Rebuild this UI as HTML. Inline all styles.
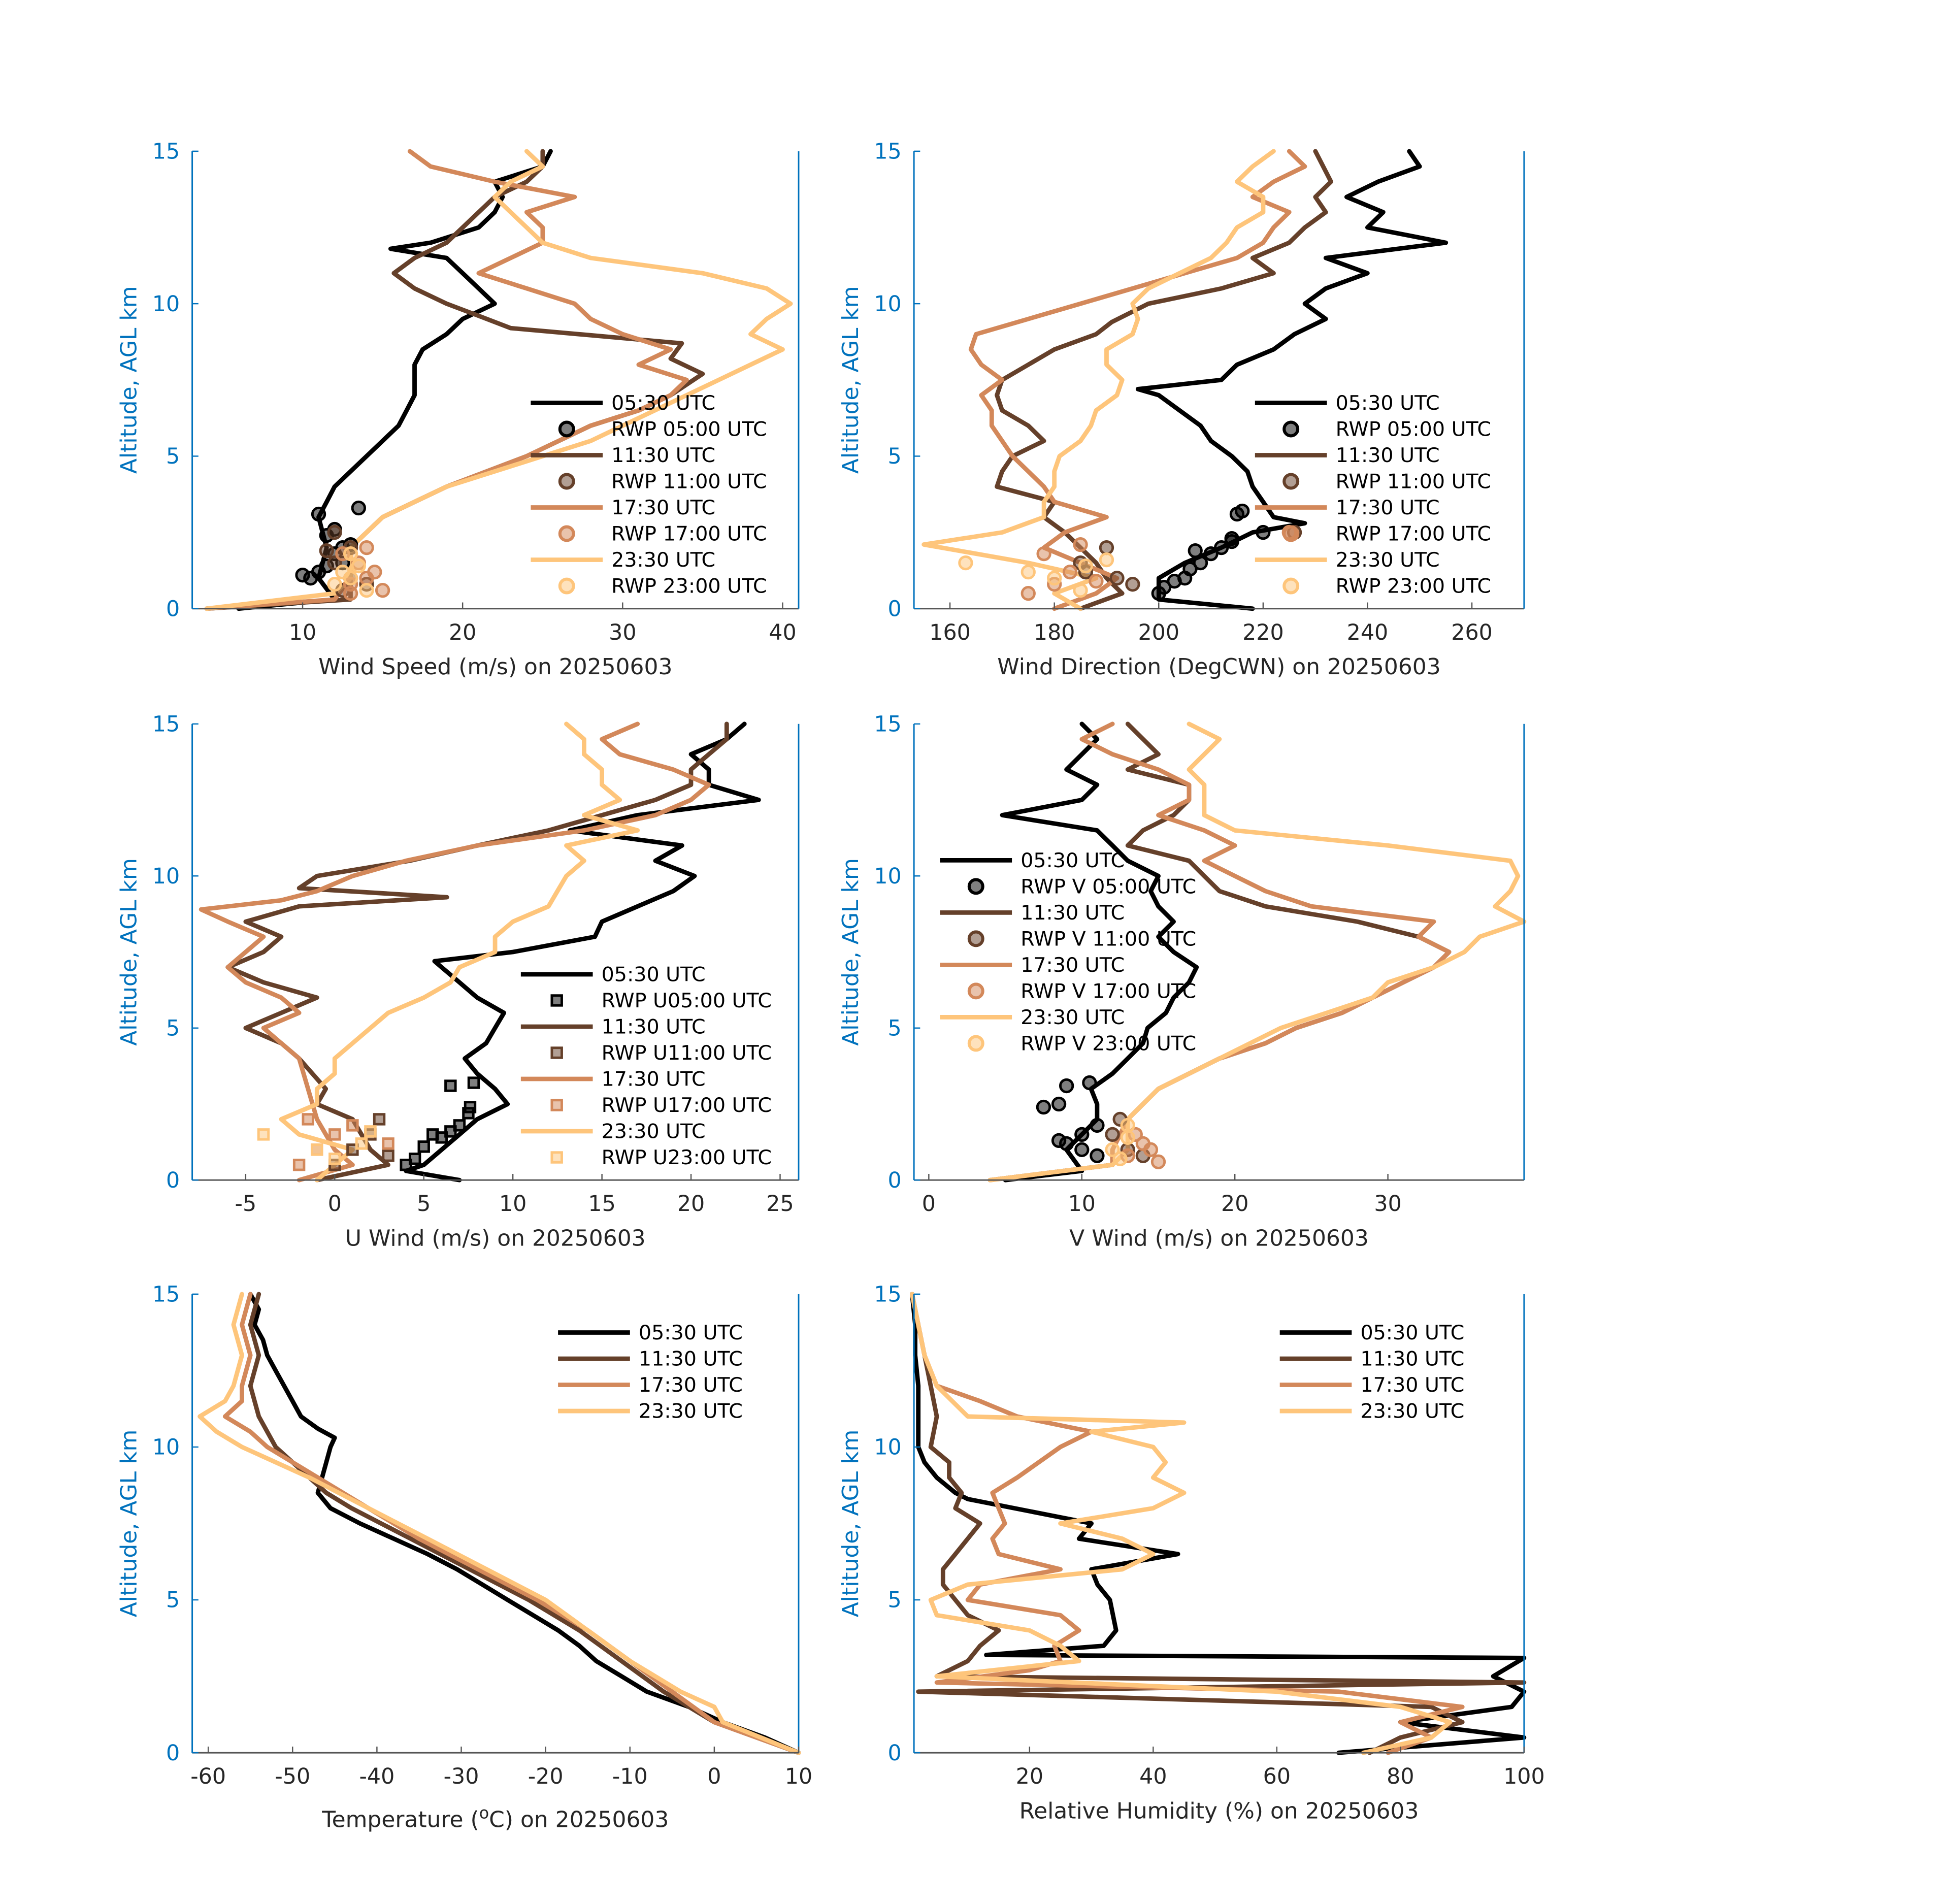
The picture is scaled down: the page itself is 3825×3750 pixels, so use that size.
<!DOCTYPE html>
<html><head><meta charset="utf-8"><style>html,body{margin:0;padding:0;background:#fff}svg{display:block}text{font-family:"DejaVu Sans","Liberation Sans",sans-serif}</style></head>
<body>
<svg id="fig" xmlns="http://www.w3.org/2000/svg" width="3825" height="3750" viewBox="0 0 1566 1536" preserveAspectRatio="none"></svg>
<script>
// ---- Data (value, altitude km) ----
const alt = [0,0.3,0.5,1,1.5,2,2.5,3,3.5,4,4.5,5,5.5,6,6.5,7,7.5,8,8.5,9,9.5,10,10.5,11,11.5,12,12.5,13,13.5,14,14.5,15];
const spd0530 = [[6,0],[12,0.3],[11,1],[11.5,2],[11,3],[11.5,3.5],[12,4],[13,4.5],[14,5],[15,5.5],[16,6],[16.5,6.5],[17,7],[17,7.5],[17,8],[17.5,8.5],[19,9],[20,9.5],[22,10],[21,10.5],[20,11],[19,11.5],[15.5,11.8],[18,12],[21,12.5],[22,13],[22.5,13.5],[22,14],[25,14.5],[25.5,15]];
const spd1130 = [[4,0],[13,0.3],[13,1],[13,2],[14,2.5],[15,3],[17,3.5],[19,4],[21.5,4.5],[24,5],[26,5.5],[28,6],[31,6.5],[33,7],[35,7.7],[33,8.2],[33.7,8.7],[23,9.2],[21,9.6],[19,10],[17,10.5],[15.7,11],[17,11.5],[19,12],[20,12.5],[21,13],[22,13.5],[24,14],[25,14.5],[25,15]];
const spd1730 = [[4,0],[12,0.3],[13,1],[13,2],[14,2.5],[15,3],[17,3.5],[19,4],[21.5,4.5],[24,5],[26,5.5],[28,6],[31,6.5],[33,7],[34,7.5],[31,8],[33,8.5],[30,9],[28,9.5],[27,10],[24,10.5],[21,11],[23,11.5],[25,12],[25,12.5],[24,13],[27,13.5],[22,14],[18,14.5],[16.7,15]];
const spd2330 = [[4,0],[12,0.5],[13,1],[13,2],[15,3],[17,3.5],[19,4],[22,4.5],[25,5],[28,5.5],[30,6],[32,6.5],[34,7],[36,7.5],[38,8],[40,8.5],[38,9],[39,9.5],[40.5,10],[39,10.5],[35,11],[28,11.5],[25,12],[24,12.5],[23,13],[22,13.5],[23,14],[25,14.5],[24,15]];
const rwpSpd0500 = [[10,1.1],[10.5,1.0],[11,1.2],[11.5,2.4],[11,3.1],[12,1.8],[12.5,2.0],[13,2.1],[13.5,3.3],[12,2.6],[11.5,1.4],[12.5,1.5]];
const rwpSpd1100 = [[12,1.5],[13,2.0],[12,2.5],[11.5,1.9],[13,1.0],[14,0.8],[12.5,0.6]];
const rwpSpd1700 = [[13,0.8],[14,1.0],[14.5,1.2],[15,0.6],[13.5,1.5],[12.5,1.8],[14,2.0],[13,0.5]];
const rwpSpd2300 = [[12,0.8],[13,1.0],[13.5,1.4],[14,0.6],[12.5,1.2],[13,1.8]];

const dir0530 = [[218,0],[200,0.3],[200,1],[205,1.5],[212,2],[218,2.5],[228,2.8],[222,3],[220,3.5],[218,4],[217,4.5],[214,5],[210,5.5],[208,6],[204,6.5],[200,7],[196,7.2],[212,7.5],[215,8],[222,8.5],[226,9],[232,9.5],[228,10],[232,10.5],[240,11],[232,11.5],[255,12],[240,12.5],[243,13],[236,13.5],[242,14],[250,14.5],[248,15]];
const dir1130 = [[185,0],[193,0.5],[190,1],[188,1.5],[185,2],[182,2.5],[178,3],[180,3.5],[169,4],[170,4.5],[172,5],[178,5.5],[175,6],[170,6.5],[169,7],[170,7.5],[175,8],[180,8.5],[188,9],[191,9.4],[198,10],[212,10.5],[222,11],[218,11.5],[225,12],[228,12.5],[232,13],[230,13.5],[233,14],[230,15]];
const dir1730 = [[180,0],[188,0.5],[192,1],[185,1.5],[178,2],[182,2.5],[190,3],[180,3.5],[178,4],[175,4.5],[172,5],[170,5.5],[168,6],[168,6.5],[166,7],[170,7.5],[166,8],[164,8.5],[165,9],[175,9.5],[185,10],[195,10.5],[205,11],[215,11.5],[220,12],[222,12.5],[225,13],[218,13.5],[222,14],[228,14.5],[225,15]];
const dir2330 = [[185,0],[180,0.5],[188,1],[175,1.5],[155,2.1],[170,2.5],[178,3],[178,3.5],[180,4],[180,4.5],[181,5],[185,5.5],[187,6],[188,6.5],[192,7],[193,7.5],[190,8],[190,8.5],[195,9],[196,9.5],[195,10],[198,10.5],[204,11],[210,11.5],[213,12],[215,12.5],[220,13],[220,13.5],[215,14],[218,14.5],[222,15]];
const rwpDir0500 = [[200,0.5],[201,0.7],[203,0.9],[205,1.0],[206,1.3],[208,1.5],[210,1.8],[212,2.0],[214,2.3],[215,3.1],[216,3.2],[214,2.2],[220,2.5],[207,1.9]];
const rwpDir1100 = [[185,1.5],[190,2.0],[195,0.8],[186,1.2],[192,1.0],[226,2.5]];
const rwpDir1700 = [[175,0.5],[180,0.8],[183,1.2],[178,1.8],[185,2.1],[188,0.9],[225,2.5]];
const rwpDir2300 = [[163,1.5],[175,1.2],[180,1.0],[186,1.4],[190,1.6],[185,0.6]];

const u0530 = [[7,0],[4,0.3],[5,0.5],[6,1],[7,1.5],[8,2],[9.7,2.5],[9,3],[8,3.5],[7.3,4],[8.5,4.5],[9,5],[9.5,5.5],[8,6],[7,6.5],[6,7],[5.6,7.2],[10,7.5],[14.6,8],[15,8.5],[17,9],[19,9.5],[20.2,10],[18,10.5],[19.5,11],[13.2,11.5],[17,12],[23.8,12.5],[21,13],[21,13.5],[20,14],[22,14.5],[23,15]];
const u1130 = [[-1,0],[3,0.5],[2,1],[1,2],[-1,2.5],[-0.5,3],[-2,4],[-3,4.5],[-5,5],[-3,5.5],[-1,6],[-4,6.5],[-6,7],[-4,7.5],[-3,8],[-5,8.5],[-2,9],[6.3,9.3],[-2,9.6],[-1,10],[4.2,10.5],[8,11],[12,11.5],[15,12],[18,12.5],[20,13],[20,13.5],[21,14],[22,14.5],[22,15]];
const u1730 = [[-2,0],[1,0.5],[0,1],[-1,2],[-1.5,3],[-2,4],[-3,4.5],[-4,5],[-2,5.5],[-3,6],[-5,6.5],[-6,7],[-5,7.5],[-4,8],[-6,8.5],[-7.5,8.9],[-3,9.2],[-1,9.5],[1,10],[4,10.5],[8,11],[14,11.5],[18,12],[20,12.5],[21,13],[19,13.5],[16,14],[15,14.5],[17,15]];
const u2330 = [[-1,0],[0,0.5],[1,1],[-2,1.5],[-3,2],[-1,2.5],[-1,3],[0,3.5],[0,4],[1,4.5],[2,5],[3,5.5],[5,6],[6.5,6.5],[7,7],[9,7.5],[9,8],[10,8.5],[12,9],[12.5,9.5],[13,10],[14,10.5],[13,11],[17,11.5],[14,12],[16,12.5],[15,13],[15,13.5],[14,14],[14,14.5],[13,15]];
const rwpU0500 = [[4,0.5],[4.5,0.7],[5,1.1],[6,1.4],[6.5,1.6],[7,1.8],[7.5,2.2],[7.6,2.4],[6.5,3.1],[7.8,3.2],[5.5,1.5]];
const rwpU1100 = [[1,1.0],[2,1.5],[3,0.8],[0,0.5],[2.5,2.0]];
const rwpU1700 = [[-2,0.5],[-1,1.0],[0,1.5],[1,1.8],[3,1.2],[-1.5,2.0]];
const rwpU2300 = [[-4,1.5],[-1,1.0],[0,0.7],[1.5,1.2],[2,1.6]];

const v0530 = [[5,0],[10,0.3],[9,1],[10,1.5],[11,2],[11,2.5],[10.6,3],[12,3.5],[13,4],[14,4.5],[14.3,5],[15.5,5.5],[16,6],[17,6.5],[17.5,7],[16,7.5],[15,8],[16,8.5],[15,9],[14.5,9.5],[15,10],[13,10.5],[12,11],[11,11.5],[4.8,12],[10,12.5],[11,13],[9,13.5],[10,14],[11,14.5],[10,15]];
const v1130 = [[4,0],[12,0.5],[12,1],[13,2],[15,3],[19,4],[22,4.5],[24,5],[27,5.5],[29,6],[31,6.5],[33,7],[34,7.5],[32,8],[28,8.5],[22,9],[19,9.5],[18,10],[17,10.5],[13,11],[14,11.5],[16,12],[17,12.5],[17,13],[13,13.5],[15,14],[13,15]];
const v1730 = [[4,0],[12,0.5],[12,1],[13,2],[15,3],[19,4],[22,4.5],[24,5],[27,5.5],[29,6],[31,6.5],[33,7],[34,7.5],[32,8],[33,8.5],[25,9],[22,9.5],[20,10],[18,10.5],[20,11],[18,11.5],[15,12],[17,12.5],[17,13],[15,13.5],[12,14],[10,14.5],[12,15]];
const v2330 = [[4,0],[12,0.5],[13,1],[13,2],[15,3],[19,4],[23,5],[26,5.5],[29,6],[30,6.5],[33,7],[35,7.5],[36,8],[38.9,8.5],[37,9],[38,9.5],[38.5,10],[38,10.5],[30,11],[20,11.5],[18,12],[18,12.5],[18,13],[17,13.5],[18,14],[19,14.5],[17,15]];
const rwpV0500 = [[7.5,2.4],[8.5,2.5],[9,3.1],[10.5,3.2],[9,1.2],[10,1.0],[11,0.8],[10,1.5],[8.5,1.3],[11,1.8]];
const rwpV1100 = [[12,1.5],[13,1.0],[12.5,2.0],[14,0.8]];
const rwpV1700 = [[13,0.8],[14,1.2],[14.5,1.0],[15,0.6],[13.5,1.5]];
const rwpV2300 = [[12,1.0],[13,1.4],[12.5,0.7],[13,1.8]];

const t0530 = [[10,0],[6,0.5],[1,1],[-3,1.5],[-8,2],[-11,2.5],[-14,3],[-16,3.5],[-18.5,4],[-21.5,4.5],[-24.5,5],[-27.5,5.5],[-30.5,6],[-34,6.5],[-38,7],[-42,7.5],[-45.5,8],[-47,8.5],[-46.5,9],[-46,9.5],[-45.5,10],[-45,10.3],[-47,10.6],[-49,11],[-50,11.5],[-51,12],[-52,12.5],[-53,13],[-53.5,13.5],[-54.5,14],[-54,14.5],[-55,15]];
const t1130 = [[10,0],[0,1],[-6,2],[-11,3],[-16,4],[-22,5],[-29,6],[-36,7],[-43,8],[-46,8.5],[-48,9],[-52,10],[-54,11],[-55,12],[-54,13],[-55,14],[-54,15]];
const t1730 = [[10,0],[0,1],[-5,2],[-10,3],[-15,4],[-21,5],[-28,6],[-35,7],[-41,8],[-47,9],[-53,10],[-55,10.5],[-58,11],[-56,11.5],[-56,12],[-55,13],[-56,14],[-55,15]];
const t2330 = [[10,0],[1,1],[0,1.5],[-4,2],[-10,3],[-15,4],[-20,5],[-27,6],[-34,7],[-41,8],[-48,9],[-56,10],[-59,10.5],[-61,11],[-58,11.5],[-57,12],[-56,13],[-57,14],[-56,15]];

const rh0530 = [[70,0],[100,0.5],[80,1],[98,1.5],[100,2],[95,2.5],[100,3.1],[13,3.2],[32,3.5],[34,4],[33,5],[31,5.5],[30,6],[44,6.5],[28,7],[30,7.5],[10,8.3],[8,8.5],[5,9],[3,9.5],[2,10],[2,11],[2,12],[1.5,13],[1.5,14],[1,15]];
const rh1130 = [[75,0],[80,0.5],[90,1],[85,1.5],[2,2],[100,2.3],[5,2.5],[10,3],[12,3.5],[15,4],[10,4.5],[8,5],[6,5.5],[6,6],[8,6.5],[10,7],[12,7.5],[8,8],[9,8.5],[7,9],[7,9.5],[4,10],[5,11],[4,12],[3,13],[2,14],[1,15]];
const rh1730 = [[78,0],[85,0.5],[80,1],[90,1.5],[70,2],[5,2.3],[20,2.7],[25,3],[24,3.5],[28,4],[25,4.5],[10,5],[12,5.5],[25,6],[15,6.5],[14,7],[16,7.5],[15,8],[14,8.5],[18,9],[25,10],[30,10.5],[18,11],[12,11.5],[5,12],[3,13],[2,14],[1,15]];
const rh2330 = [[74,0],[85,0.5],[88,1],[80,1.5],[60,2],[5,2.5],[28,3],[25,3.5],[20,4],[5,4.5],[4,5],[10,5.5],[35,6],[40,6.5],[35,7],[25,7.5],[40,8],[45,8.5],[40,9],[42,9.5],[40,10],[30,10.5],[45,10.8],[10,11],[5,12],[3,13],[2,14],[1,15]];

const C = {k:'#000000',b:'#65402a',o:'#d3885a',y:'#fec57b'};
const F = {k:'rgba(0,0,0,0.5)',b:'rgba(101,64,42,0.5)',o:'rgba(211,136,90,0.5)',y:'rgba(254,197,123,0.5)'};
const NS='http://www.w3.org/2000/svg';
const svg=document.getElementById('fig');
function mk(tag,attrs,parent){const e=document.createElementNS(NS,tag);for(const k in attrs)e.setAttribute(k,attrs[k]);(parent||svg).appendChild(e);return e;}

function panel(o){
  const g=mk('g',{});
  
  
  const {x0,x1,y0,y1,xmin,xmax}=o;
  const X=v=>x0+(v-xmin)/(xmax-xmin)*(x1-x0);
  const Y=a=>y1-(a/15)*(y1-y0);
  o.series.forEach(s=>{
    const p=mk('polyline',{points:s.d.map(q=>X(q[0]).toFixed(1)+','+Y(q[1]).toFixed(1)).join(' '),fill:'none',stroke:C[s.c],'stroke-width':3.6,'stroke-linejoin':'round','stroke-linecap':'round'},g);
    
    
  });
  (o.rwp||[]).forEach(s=>{
    s.d.forEach(q=>{
      let m;
      if(o.square){m=mk('rect',{x:X(q[0])-4,y:Y(q[1])-4,width:8,height:8,fill:F[s.c],stroke:C[s.c],'stroke-width':2},g);}
      else{m=mk('circle',{cx:X(q[0]),cy:Y(q[1]),r:5,fill:F[s.c],stroke:C[s.c],'stroke-width':2},g);}
      
      
    });
  });
  const ax=mk('line',{x1:x0,y1:y1,x2:x1,y2:y1,stroke:'#555','stroke-width':1.2},g);
  
  
  mk('line',{x1:x0,y1:y0,x2:x0,y2:y1,stroke:'#0072bd','stroke-width':1.2},g);
  mk('line',{x1:x1,y1:y0,x2:x1,y2:y1,stroke:'#0072bd','stroke-width':1.2},g);
  o.xt.forEach(v=>{
    const x=X(v);
    mk('line',{x1:x,y1:y1,x2:x,y2:y1-5,stroke:'#555','stroke-width':1},g);
    const t=mk('text',{x:x,y:y1+25,'text-anchor':'middle','font-size':17.5,fill:'#262626'},g);t.textContent=v;
    
    
  });
  [0,5,10,15].forEach(a=>{
    const y=Y(a);
    mk('line',{x1:x0,y1:y,x2:x0+5,y2:y,stroke:'#0072bd','stroke-width':1},g);
    const t=mk('text',{x:x0-10,y:y+6,'text-anchor':'end','font-size':17.5,fill:'#0072bd'},g);t.textContent=a;
    
    
  });
  const yl=mk('text',{x:0,y:0,transform:`translate(${x0-45},${(y0+y1)/2}) rotate(-90)`,'text-anchor':'middle','font-size':18,fill:'#0072bd'},g);
  yl.textContent='Altitude, AGL km';
  
  
  const xl=mk('text',{x:(x0+x1)/2,y:y1+o.xlOff,'text-anchor':'middle','font-size':18,fill:'#262626'},g);
  xl.innerHTML=o.xlabel;
  
  
  const L=o.leg;
  L.items.forEach((it,i)=>{
    const y=L.y+i*21.1;
    if(it.type==='line'){mk('line',{x1:L.x,y1:y,x2:L.x+58,y2:y,stroke:C[it.c],'stroke-width':3.6},g);}
    else if(o.square){mk('rect',{x:L.x+29-4,y:y-4,width:8,height:8,fill:F[it.c],stroke:C[it.c],'stroke-width':2},g);}
    else{mk('circle',{cx:L.x+29,cy:y,r:5.5,fill:F[it.c],stroke:C[it.c],'stroke-width':2.5},g);}
    const t=mk('text',{x:L.x+65,y:y+5.5,'font-size':16.2,fill:'#000'},g);t.textContent=it.t;
    
    
  });
}
const lg=(x,y,pfx)=>({x,y,items:[
 {type:'line',c:'k',t:'05:30 UTC'},{type:'m',c:'k',t:pfx[0]},
 {type:'line',c:'b',t:'11:30 UTC'},{type:'m',c:'b',t:pfx[1]},
 {type:'line',c:'o',t:'17:30 UTC'},{type:'m',c:'o',t:pfx[2]},
 {type:'line',c:'y',t:'23:30 UTC'},{type:'m',c:'y',t:pfx[3]}]});
const lg4=(x,y)=>({x,y,items:[{type:'line',c:'k',t:'05:30 UTC'},{type:'line',c:'b',t:'11:30 UTC'},{type:'line',c:'o',t:'17:30 UTC'},{type:'line',c:'y',t:'23:30 UTC'}]});
const ser=(a,b,c,d)=>[{d:a,c:'k',l:'0530'},{d:b,c:'b',l:'1130'},{d:c,c:'o',l:'1730'},{d:d,c:'y',l:'2330'}];
const rw=(a,b,c,d)=>[{d:a,c:'k'},{d:b,c:'b'},{d:c,c:'o'},{d:d,c:'y'}];
const rwpNames=['RWP 05:00 UTC','RWP 11:00 UTC','RWP 17:00 UTC','RWP 23:00 UTC'];

panel({name:'wind-speed-panel',x0:155,x1:644,y0:122,y1:491,xmin:3.1,xmax:41,xt:[10,20,30,40],xlabel:'Wind Speed (m/s) on 20250603',xlOff:53,
  series:ser(spd0530,spd1130,spd1730,spd2330),rwp:rw(rwpSpd0500,rwpSpd1100,rwpSpd1700,rwpSpd2300),leg:lg(428,325,rwpNames)});
panel({name:'wind-direction-panel',x0:737,x1:1229,y0:122,y1:491,xmin:153.1,xmax:270,xt:[160,180,200,220,240,260],xlabel:'Wind Direction (DegCWN) on 20250603',xlOff:53,
  series:ser(dir0530,dir1130,dir1730,dir2330),rwp:rw(rwpDir0500,rwpDir1100,rwpDir1700,rwpDir2300),leg:lg(1012,325,rwpNames)});
panel({name:'u-wind-panel',x0:155,x1:644,y0:584,y1:952,xmin:-8,xmax:26.04,xt:[-5,0,5,10,15,20,25],xlabel:'U Wind (m/s) on 20250603',xlOff:53,square:true,
  series:ser(u0530,u1130,u1730,u2330),rwp:rw(rwpU0500,rwpU1100,rwpU1700,rwpU2300),leg:lg(420,786,['RWP U05:00 UTC','RWP U11:00 UTC','RWP U17:00 UTC','RWP U23:00 UTC'])});
panel({name:'v-wind-panel',x0:737,x1:1229,y0:584,y1:952,xmin:-0.97,xmax:38.9,xt:[0,10,20,30],xlabel:'V Wind (m/s) on 20250603',xlOff:53,
  series:ser(v0530,v1130,v1730,v2330),rwp:rw(rwpV0500,rwpV1100,rwpV1700,rwpV2300),leg:lg(758,694,['RWP V 05:00 UTC','RWP V 11:00 UTC','RWP V 17:00 UTC','RWP V 23:00 UTC'])});
panel({name:'temperature-panel',x0:155,x1:644,y0:1044,y1:1414,xmin:-61.9,xmax:10,xt:[-60,-50,-40,-30,-20,-10,0,10],xlabel:'Temperature (<tspan dy="-7" font-size="13">o</tspan><tspan dy="7">C) on 20250603</tspan>',xlOff:60,
  series:ser(t0530,t1130,t1730,t2330),leg:lg4(450,1075)});
panel({name:'relative-humidity-panel',x0:737,x1:1229,y0:1044,y1:1414,xmin:1.3,xmax:100,xt:[20,40,60,80,100],xlabel:'Relative Humidity (%) on 20250603',xlOff:53,
  series:ser(rh0530,rh1130,rh1730,rh2330),leg:lg4(1032,1075)});
</script>
</body></html>
